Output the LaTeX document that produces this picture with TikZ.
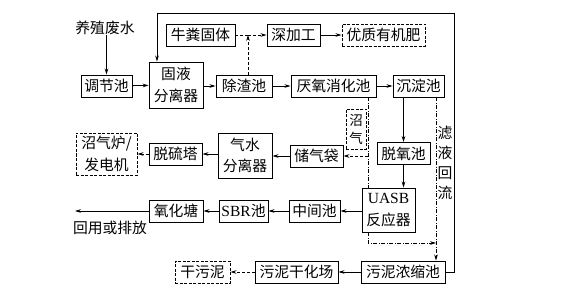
\documentclass[tikz,border=0pt]{standalone}
\usepackage{fontspec}
\newfontfamily\cjk{Noto Sans CJK SC}
\newfontfamily\lat{Liberation Serif}
\usetikzlibrary{arrows.meta}
\begin{document}
\begin{tikzpicture}[x=1pt,y=-1pt,
 box/.style={draw, line width=0.9pt, inner sep=0pt, minimum height=22pt, font=\cjk\fontsize{14.8}{21.5}\selectfont, align=center},
 dbox/.style={box, dash pattern=on 3pt off 1.5pt},
 lbl/.style={inner sep=0pt, font=\cjk\fontsize{14.8}{20}\selectfont, align=center},
 ln/.style={line width=0.8pt},
 arr/.style={ln, -{Stealth[length=6pt,width=3.6pt]}},
 dd/.style={dash pattern=on 4pt off 1.5pt on 1pt off 1.5pt},
 ds/.style={dash pattern=on 3pt off 2pt},
]
\useasboundingbox (0,0) rectangle (581,302);
\fill[white] (0,0) rectangle (581,302);

% nodes
\node[lbl] (ys) at (105,28) {养殖废水};
\node[box, minimum width=51pt] (tjc) at (106.5,86) {调节池};
\node[box, minimum width=54pt, minimum height=46pt] (gy) at (176,85) {固液\\分离器};
\node[box, minimum width=56pt] (cz) at (244,86) {除渣池};
\node[box, minimum width=85pt] (yy) at (333.5,86) {厌氧消化池};
\node[box, minimum width=51pt] (cd) at (418.5,86) {沉淀池};
\node[box, minimum width=69pt] (nf) at (200.5,35) {牛粪固体};
\node[box, minimum width=53pt] (sjg) at (293.5,35) {深加工};
\node[dbox, minimum width=83pt] (yz) at (383.5,35) {优质有机肥};
\node[dbox, minimum width=20pt, minimum height=40pt, font=\cjk\fontsize{13.5}{18}\selectfont] (zq) at (356,129) {沼\\气};
\node[box, minimum width=53pt] (cqd) at (316.5,156) {储气袋};
\node[box, minimum width=54pt, minimum height=45pt] (qs) at (245,155.5) {气水\\分离器};
\node[box, minimum width=53pt] (ls) at (175.5,154) {脱硫塔};
\node[dbox, minimum width=61pt, minimum height=42pt] (zql) at (106.5,154) {沼气炉/\\发电机};
\node[box, minimum width=53pt] (dy) at (403.5,153.5) {脱氧池};
\node[box, minimum width=53pt, minimum height=44pt] (uasb) at (388.5,210) {{\lat\fontsize{15.5}{21.5}\selectfont UASB}\\反应器};
\node[box, minimum width=51pt] (zj) at (314.5,211) {中间池};
\node[box, minimum width=49pt] (sbr) at (243.5,211) {{\lat\fontsize{15.5}{21.5}\selectfont SBR}池};
\node[box, minimum width=54pt] (yht) at (176,211) {氧化塘};
\node[lbl] (hy) at (110,228) {回用或排放};
\coordinate (hyend) at (75,211);
\node[box, minimum width=84pt] (wn) at (403,272) {污泥浓缩池};
\node[box, minimum width=83pt] (gh) at (296.5,272) {污泥干化场};
\node[dbox, minimum width=55pt] (gwn) at (202.5,272) {干污泥};
\node[lbl] (lyhl) at (445,163) {滤\\液\\回\\流};

% main water line
\draw[arr] (ys.south -| tjc.north) -- (tjc.north);
\draw[arr] (tjc) -- (gy);
\draw[arr] (gy.east |- cz) -- (cz);
\draw[arr] (cz) -- (yy);
\draw[arr] (yy) -- (cd);
\draw[arr] (cd.south -| dy.north) -- (dy.north);
\draw[arr] (dy.south -| 403.5,188) -- (uasb.north -| dy.south);
\draw[arr] (uasb.west |- zj) -- (zj);
\draw[arr] (zj) -- (sbr);
\draw[arr] (sbr) -- (yht);
\draw[arr] (yht) -- (hyend);

% solids
\coordinate (jn) at (248,35);
\draw[ln,ds] (nf) -- (jn);
\draw[arr,ds] (cz.north -| jn) -- (jn);
\draw[arr,ds] (jn) -- (sjg);
\draw[arr] (sjg) -- (yz);

% biogas
\coordinate (g1) at (368,156);
\draw[ln,dd] (yy.south -| g1) -- (uasb.north -| g1);
\draw[arr,ds] (g1) -- (cqd);
\draw[arr] (cqd) -- (qs.east |- cqd);
\draw[arr] (qs.west |- ls) -- (ls);
\draw[arr,ds] (ls) -- (zql.east |- ls);

% sludge
\coordinate (s1) at (436,243);
\draw[arr,dd] (uasb.south -| 368,0) -- (368,243) -- (s1);
\draw[arr,dd] (cd.south -| s1) -- (wn.north -| s1);
\draw[arr] (wn) -- (gh);
\draw[arr,ds] (gh) -- (gwn);

% filtrate reflux
\draw[arr] (wn.east) -- (454,272) -- (454,13) -- (157,13) -- (gy.north -| 157,0);
\end{tikzpicture}
\end{document}
